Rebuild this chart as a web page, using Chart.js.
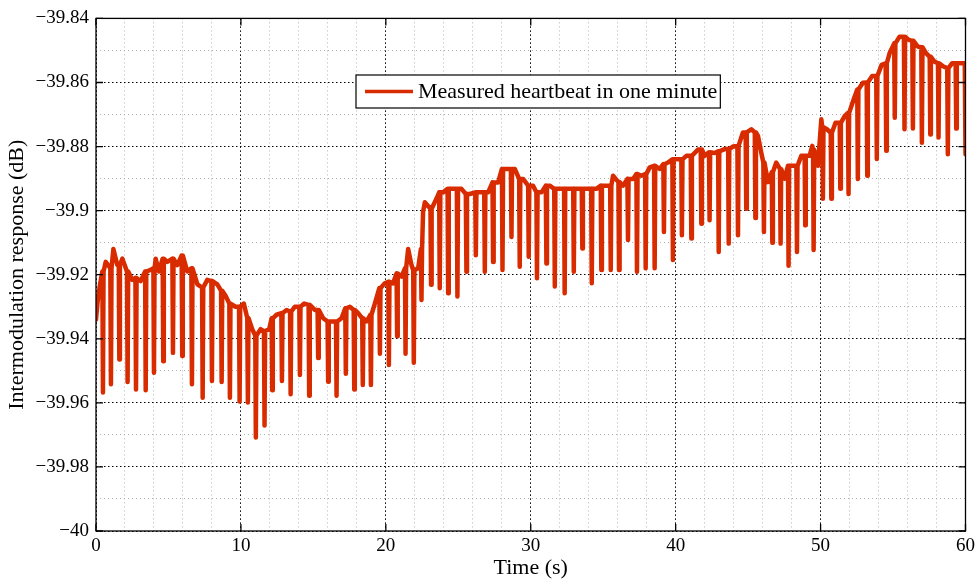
<!DOCTYPE html>
<html>
<head>
<meta charset="utf-8">
<script src="https://cdn.jsdelivr.net/npm/chart.js@4.4.0/dist/chart.umd.min.js"></script>
<style>
    body { margin: 0; background: #fff; }
</style>
</head>
<body>
<canvas id="chart-heartbeat" width="979" height="581"></canvas>
<script>
/***** Data *****/
//Each beat: time (s), level of the trace around it, bottom of the dip (dB)
const beatTimes = [
    0.48, 1.03, 1.61, 2.18, 2.76, 3.43, 4.00, 4.64, 5.31, 5.95,
    6.62, 7.36, 8.00, 8.67, 9.24, 9.91, 10.48, 11.03, 11.63, 12.16,
    12.83, 13.43, 14.07, 14.71, 15.33, 16.02, 16.60, 17.24, 17.82, 18.41,
    18.97, 19.59, 20.21, 20.78, 21.36, 21.93, 22.46, 23.12, 23.72, 24.30,
    24.94, 25.56, 26.21, 26.83, 27.40, 28.05, 28.67, 29.24, 29.86, 30.43,
    31.08, 31.66, 32.34, 32.97, 33.56, 34.21, 34.87, 35.52, 36.09, 36.71,
    37.33, 37.93, 38.55, 39.19, 39.81, 40.43, 41.08, 41.77, 42.34, 42.97,
    43.66, 44.30, 44.87, 45.50, 46.09, 46.67, 47.24, 47.79, 48.37, 48.94,
    49.52, 50.16, 50.74, 51.36, 51.93, 52.57, 53.22, 53.88, 54.53, 55.12,
    55.79, 56.37, 56.99, 57.57, 58.14, 58.78, 59.36
];
const beatLevels = [
    -39.919, -39.918, -39.917, -39.919, -39.921, -39.919, -39.918, -39.915, -39.915, -39.914,
    -39.918, -39.924, -39.922, -39.925, -39.929, -39.930, -39.9335, -39.939, -39.9376, -39.9336,
    -39.932, -39.9315, -39.930, -39.9294, -39.931, -39.9346, -39.9346, -39.9305, -39.931, -39.9336,
    -39.9325, -39.9242, -39.9222, -39.9196, -39.918, -39.9186, -39.912, -39.8994, -39.8943, -39.8932,
    -39.8932, -39.8948, -39.8943, -39.8943, -39.8912, -39.887, -39.887, -39.8901, -39.8922, -39.8943,
    -39.8922, -39.8932, -39.8932, -39.8932, -39.8932, -39.8932, -39.8922, -39.8922, -39.8911, -39.8901,
    -39.8886, -39.8886, -39.886, -39.8855, -39.884, -39.884, -39.8829, -39.8809, -39.8818, -39.8815,
    -39.8808, -39.8798, -39.8756, -39.8756, -39.885, -39.888, -39.887, -39.886, -39.886, -39.8829,
    -39.881, -39.874, -39.8757, -39.8726, -39.8695, -39.8622, -39.860, -39.858, -39.854, -39.8478,
    -39.8457, -39.847, -39.849, -39.852, -39.854, -39.8555, -39.854
];
const beatDips = [
    -39.9568, -39.9542, -39.9465, -39.9535, -39.9558, -39.9561, -39.9506, -39.947, -39.9444, -39.9454,
    -39.9542, -39.9584, -39.9532, -39.9535, -39.9584, -39.9596, -39.9599, -39.9708, -39.9671, -39.9561,
    -39.9532, -39.9573, -39.9513, -39.9578, -39.946, -39.9534, -39.9578, -39.9509, -39.9558, -39.9544,
    -39.9544, -39.9447, -39.9482, -39.9392, -39.9447, -39.9475, -39.9279, -39.9231, -39.9242, -39.9258,
    -39.9268, -39.9191, -39.9139, -39.9191, -39.916, -39.9185, -39.9082, -39.9175, -39.9144, -39.9211,
    -39.9165, -39.9237, -39.9258, -39.9191, -39.9118, -39.9227, -39.9185, -39.9185, -39.9185, -39.9092,
    -39.9191, -39.918, -39.918, -39.9067, -39.9154, -39.9077, -39.9087, -39.9041, -39.903, -39.9129,
    -39.9103, -39.9077, -39.8994, -39.9023, -39.9067, -39.910, -39.9103, -39.9172, -39.9129, -39.9046,
    -39.9123, -39.8963, -39.8963, -39.8932, -39.8948, -39.8901, -39.8891, -39.8839, -39.8813, -39.871,
    -39.8746, -39.8744, -39.8788, -39.8762, -39.8772, -39.8824, -39.8744
];
//Trace level between the beats
const traceTimes = [
    0.00, 0.12, 0.28, 0.67, 1.20, 1.47, 1.82, 2.50, 3.08, 3.77,
    4.12, 4.34, 4.92, 5.61, 6.30, 7.00, 7.68, 8.37, 8.94, 9.63,
    10.20, 10.78, 11.36, 11.95, 12.46, 13.15, 13.72, 14.37, 15.10, 15.68,
    16.37, 16.94, 17.52, 18.09, 18.67, 19.24, 19.93, 20.50, 21.08, 21.54,
    21.77, 22.23, 22.57, 22.69, 23.49, 23.95, 24.53, 25.22, 25.79, 26.48,
    27.06, 27.75, 28.21, 28.90, 29.47, 30.16, 30.74, 31.31, 32.00, 32.57,
    33.26, 33.84, 34.53, 35.22, 35.68, 36.37, 37.06, 37.63, 38.21, 38.90,
    39.47, 40.16, 40.74, 41.54, 42.00, 42.69, 43.38, 43.95, 44.64, 45.22,
    45.68, 45.91, 46.37, 46.94, 47.52, 48.09, 48.67, 49.24, 49.43, 49.82,
    50.05, 50.44, 51.03, 51.66, 52.28, 52.92, 53.56, 54.21, 54.76, 55.45,
    56.09, 56.71, 57.29, 57.86, 58.48, 59.08, 59.70, 59.95, 60.00
];
const traceLevels = [
    -39.934, -39.928, -39.923, -39.916, -39.912, -39.917, -39.915, -39.9216, -39.922, -39.9185,
    -39.915, -39.919, -39.916, -39.917, -39.919, -39.923, -39.9216, -39.923, -39.9266, -39.930,
    -39.929, -39.937, -39.937, -39.937, -39.9325, -39.931, -39.930, -39.929, -39.931, -39.9336,
    -39.9346, -39.9336, -39.930, -39.932, -39.9346, -39.929, -39.9227, -39.9227, -39.9206, -39.912,
    -39.917, -39.918, -39.9004, -39.8974, -39.8963, -39.8943, -39.8932, -39.8932, -39.8948, -39.8943,
    -39.8943, -39.8912, -39.887, -39.887, -39.8901, -39.8922, -39.8943, -39.8922, -39.8932, -39.8932,
    -39.8932, -39.8932, -39.8932, -39.8922, -39.8891, -39.8922, -39.8901, -39.8891, -39.8865, -39.887,
    -39.885, -39.884, -39.8829, -39.8809, -39.8829, -39.882, -39.8808, -39.880, -39.8756, -39.8746,
    -39.8767, -39.882, -39.8911, -39.885, -39.890, -39.886, -39.8829, -39.8829, -39.8798, -39.886,
    -39.8715, -39.8746, -39.8726, -39.8705, -39.8653, -39.8601, -39.858, -39.8545, -39.8509, -39.8457,
    -39.8467, -39.8488, -39.8509, -39.8535, -39.855, -39.854, -39.854, -39.854, -39.8824
];
//Labelled ticks
const xMajorTicks = [0, 10, 20, 30, 40, 50, 60];
const yMajorTicks = [-40, -39.98, -39.96, -39.94, -39.92, -39.9, -39.88, -39.86, -39.84];

const SERIES_LABEL = "Measured heartbeat in one minute";
const LINE_COLOR = "rgb(217,43,0)";
const FONT_FAMILY = "'Liberation Serif', 'Times New Roman', serif";
const SPIKE_HALF = 0.04; //half width of a dip, in seconds

/***** Build the series *****/
let points = [];
for (let i = 0; i < beatTimes.length; i++) {
    points.push({x: beatTimes[i] - SPIKE_HALF, y: beatLevels[i]});
    points.push({x: beatTimes[i], y: beatDips[i]});
    points.push({x: beatTimes[i] + SPIKE_HALF, y: beatLevels[i]});
}
for (let i = 0; i < traceTimes.length; i++) {
    points.push({x: traceTimes[i], y: traceLevels[i]});
}
points.sort(function (a, b) { return a.x - b.x; });

function isMajor(list, v) {
    return list.some(function (m) { return Math.abs(m - v) < 1e-6; });
}

function gridColor(list) {
    return function (ctx) {
        if (!ctx.tick) return "#000";
        return isMajor(list, ctx.tick.value) ? "#000" : "#b4b4b4";
    };
}

function gridDash(list) {
    return function (ctx) {
        if (!ctx.tick) return [];
        return isMajor(list, ctx.tick.value) ? [1.5, 2.5] : [1, 3];
    };
}

//Box, inward ticks and legend like the original figure
const framePlugin = {
    id: "frame",
    afterDraw: function (chart) {
        let ctx = chart.ctx;
        let area = chart.chartArea;
        let xs = chart.scales.x;
        let ys = chart.scales.y;
        ctx.save();
        ctx.setLineDash([]);
        ctx.strokeStyle = "#000";
        ctx.lineWidth = 1.3;
        ctx.strokeRect(area.left, area.top, area.right - area.left, area.bottom - area.top);

        ctx.beginPath();
        xMajorTicks.forEach(function (v) {
            let px = xs.getPixelForValue(v);
            ctx.moveTo(px, area.bottom); ctx.lineTo(px, area.bottom - 7);
            ctx.moveTo(px, area.top); ctx.lineTo(px, area.top + 7);
        });
        yMajorTicks.forEach(function (v) {
            let py = ys.getPixelForValue(v);
            ctx.moveTo(area.left, py); ctx.lineTo(area.left + 7, py);
            ctx.moveTo(area.right, py); ctx.lineTo(area.right - 7, py);
        });
        ctx.stroke();

        //Legend
        let label = chart.data.datasets[0].label;
        ctx.font = "22px " + FONT_FAMILY;
        let textW = ctx.measureText(label).width;
        let boxX = 356, boxY = 75, boxH = 33;
        let boxW = 63 + textW + 2;
        ctx.fillStyle = "#fff";
        ctx.fillRect(boxX, boxY, boxW, boxH);
        ctx.lineWidth = 1.2;
        ctx.strokeRect(boxX, boxY, boxW, boxH);
        ctx.strokeStyle = LINE_COLOR;
        ctx.lineWidth = 3.5;
        ctx.beginPath();
        ctx.moveTo(boxX + 9, boxY + boxH / 2);
        ctx.lineTo(boxX + 57, boxY + boxH / 2);
        ctx.stroke();
        ctx.fillStyle = "#000";
        ctx.textAlign = "left";
        ctx.textBaseline = "middle";
        ctx.fillText(label, boxX + 62, boxY + boxH / 2 + 1);
        ctx.restore();
    }
};

new Chart("chart-heartbeat", {
    type: "line",
    data: {
        datasets: [{
            label: SERIES_LABEL,
            data: points,
            borderColor: LINE_COLOR,
            borderWidth: 4.5,
            borderJoinStyle: "round",
            borderCapStyle: "round",
            pointRadius: 0,
            tension: 0,
            fill: false
        }]
    },
    options: {
        responsive: false,
        animation: false,
        events: [],
        layout: {padding: {top: 15, right: 12, bottom: 0, left: 0}},
        plugins: {
            legend: {display: false},
            tooltip: {enabled: false}
        },
        scales: {
            x: {
                type: "linear",
                min: 0,
                max: 60,
                afterFit: function (scale) { scale.height = 50; },
                ticks: {
                    stepSize: 2,
                    autoSkip: false,
                    maxRotation: 0,
                    padding: 4,
                    color: "#000",
                    font: {family: FONT_FAMILY, size: 19},
                    callback: function (v) { return isMajor(xMajorTicks, v) ? String(v) : ""; }
                },
                grid: {drawTicks: false, lineWidth: 1, color: gridColor(xMajorTicks)},
                border: {display: false, dash: gridDash(xMajorTicks)},
                title: {
                    display: true,
                    text: "Time (s)",
                    color: "#000",
                    font: {family: FONT_FAMILY, size: 22},
                    padding: {top: 0, bottom: 0}
                }
            },
            y: {
                min: -40,
                max: -39.84,
                afterFit: function (scale) { scale.width = 96; },
                ticks: {
                    stepSize: 0.01,
                    autoSkip: false,
                    padding: 7,
                    color: "#000",
                    font: {family: FONT_FAMILY, size: 19},
                    callback: function (v) {
                        if (!isMajor(yMajorTicks, v)) return "";
                        return String(Number(v.toFixed(2))).replace("-", "\u2212");
                    }
                },
                grid: {drawTicks: false, lineWidth: 1, color: gridColor(yMajorTicks)},
                border: {display: false, dash: gridDash(yMajorTicks)},
                title: {
                    display: true,
                    text: "Intermodulation response (dB)",
                    color: "#000",
                    font: {family: FONT_FAMILY, size: 22},
                    padding: {top: 4, bottom: 0}
                }
            }
        }
    },
    plugins: [framePlugin]
});
</script>
</body>
</html>
